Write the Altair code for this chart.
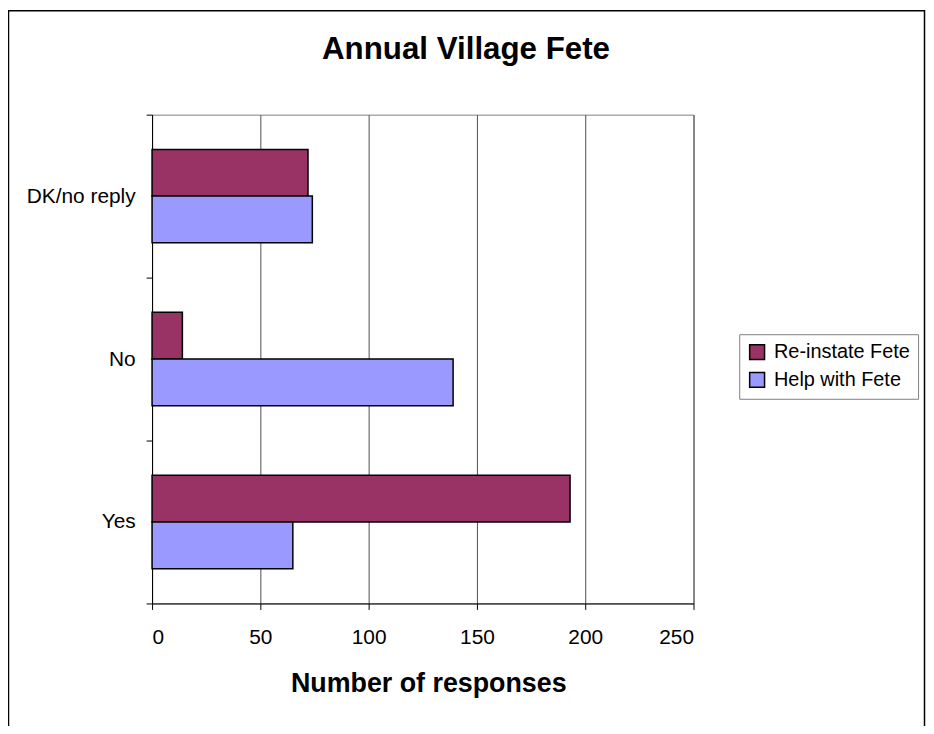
import altair as alt
import pandas as pd

title_text = ["Annual Village Fete"]
categories = ["DK/no reply", "No", "Yes"]
series = ["Re-instate Fete", "Help with Fete"]
reinstate = [72, 14, 193]
help_with = [74, 139, 65]
x_ticks = [0, 50, 100, 150, 200, 250]
colors = ["#993366", "#9999FF"]

rows = []
for c, r, h in zip(categories, reinstate, help_with):
    rows.append({"category": c, "series": series[0], "value": r})
    rows.append({"category": c, "series": series[1], "value": h})
df = pd.DataFrame(rows)

FONT = "Liberation Sans, Arial, Helvetica, sans-serif"

bars = alt.Chart(df).mark_bar(stroke="black", strokeWidth=1.5).encode(
    x=alt.X(
        "value:Q",
        scale=alt.Scale(domain=[0, 250], nice=False),
        axis=alt.Axis(
            values=x_ticks,
            title="Number of responses",
            grid=True,
            gridColor="#505050",
            gridWidth=1,
            domainColor="black",
            tickColor="black",
            tickSize=6,
            labelFontSize=21,
            labelBaseline="alphabetic",
            labelPadding=34,
            labelColor="black",
            titleFontSize=27,
            titleFontWeight="bold",
            titleBaseline="alphabetic",
            titleY=89,
            titleX=278,
            titleColor="black",
        ),
    ),
    y=alt.Y(
        "category:N",
        sort=categories,
        scale=alt.Scale(paddingInner=0, paddingOuter=0),
        axis=alt.Axis(
            title=None,
            tickBand="extent",
            grid=False,
            domainColor="black",
            tickColor="black",
            tickSize=6,
            labelFontSize=21,
            labelPadding=11,
            labelColor="black",
        ),
    ),
    yOffset=alt.YOffset(
        "series:N",
        sort=series,
        scale=alt.Scale(paddingInner=0, paddingOuter=0.745),
    ),
    color=alt.Color(
        "series:N",
        sort=series,
        scale=alt.Scale(domain=series, range=colors),
        legend=alt.Legend(
            title=None,
            orient="none",
            legendX=591,
            legendY=221,
            symbolType="square",
            symbolSize=225,
            symbolStrokeColor="black",
            symbolStrokeWidth=1.5,
            symbolOpacity=1,
            labelFontSize=20,
            labelColor="black",
            labelOffset=7,
            rowPadding=6,
            padding=8,
            strokeColor="#808080",
            fillColor="white",
        ),
    ),
)

title = alt.Chart(pd.DataFrame({"t": title_text})).mark_text(
    fontSize=31.5, fontWeight="bold", color="black", align="center", baseline="alphabetic"
).encode(text="t:N", x=alt.value(316), y=alt.value(-56))

border = alt.Chart(pd.DataFrame({"a": [0]})).mark_rect(
    fillOpacity=0, stroke="black", strokeWidth=1.5
).encode(
    x=alt.value(-144.5),
    x2=alt.value(777.5),
    y=alt.value(-104.5),
    y2=alt.value(700),
)

chart = alt.layer(border, title, bars).properties(
    width=545,
    height=492,
    autosize=alt.AutoSizeParams(type="none"),
    padding={"left": 145, "top": 105, "right": 234, "bottom": 121},
).configure(font=FONT).configure_view(stroke="#808080", strokeWidth=1)

chart.save("out.html", embed_options={"renderer": "svg", "actions": False})
